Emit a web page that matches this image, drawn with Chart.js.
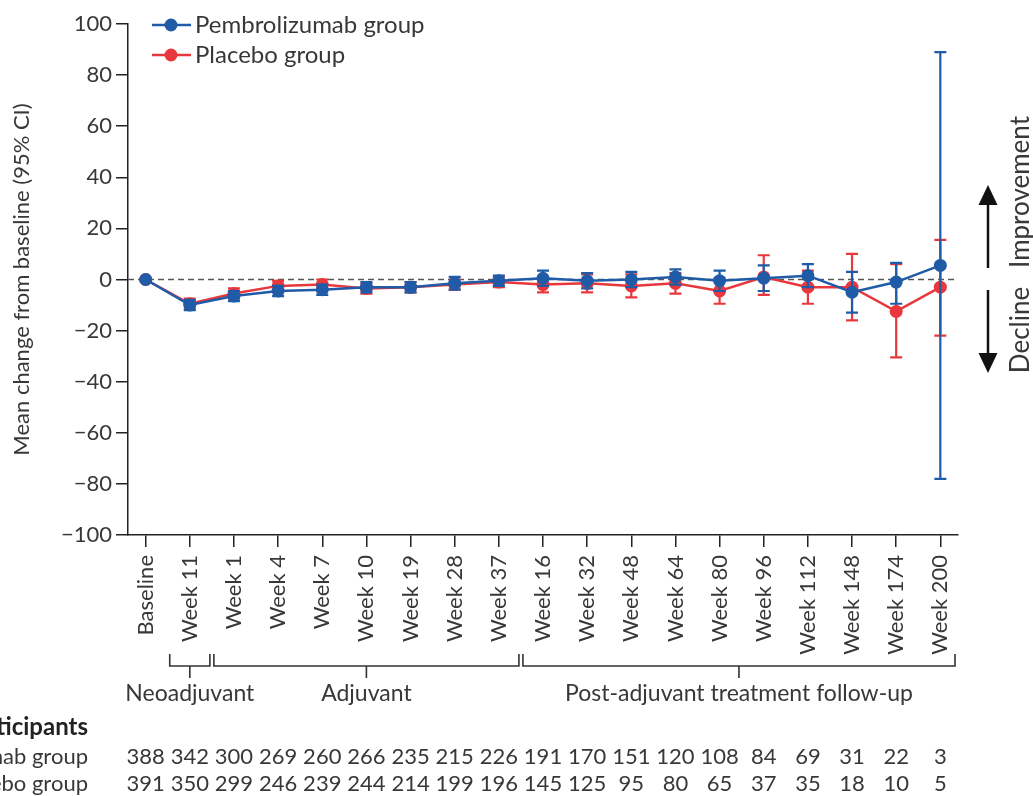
<!DOCTYPE html>
<html><head><meta charset="utf-8">
<script src="https://cdn.jsdelivr.net/npm/chart.js@4"></script>
<style>html,body{margin:0;padding:0;background:#fff;} #wrap{width:1033px;height:796px;position:relative;}</style>
</head><body><div id="wrap"><canvas id="c" width="1033" height="796"></canvas></div>
<script>
const categories = ['Baseline','Week 11','Week 1','Week 4','Week 7','Week 10','Week 19','Week 28','Week 37','Week 16','Week 32','Week 48','Week 64','Week 80','Week 96','Week 112','Week 148','Week 174','Week 200'];
const pembroMean  = [0, -10, -6.5, -4.5, -4, -3, -3, -1.5, -0.5, 0.5, -0.5, 0, 1, -0.5, 0.5, 1.5, -5, -1, 5.5];
const pembroLower = [0, -12, -8.5, -6.5, -6, -5, -5, -4, -2.5, -2.5, -3.5, -3, -2, -4.5, -4.5, -3, -13, -9.5, -78];
const pembroUpper = [0, -8, -4.5, -2.5, -2, -1, -1, 1, 1.5, 3.5, 2.5, 3, 4, 3.5, 5.5, 6, 3, 6.5, 89];
const placeboMean  = [0, -9.5, -5.5, -2.5, -2, -3.5, -3, -2, -1, -2, -1.5, -2.5, -1.5, -4.5, 1, -3, -3, -12.5, -3];
const placeboLower = [0, -11.5, -7.5, -4.5, -4, -5.5, -5, -4, -3, -5, -5, -7, -5.5, -9.5, -6, -9.5, -16, -30.5, -22];
const placeboUpper = [0, -7.5, -3.5, -0.5, 0, -1.5, -1, 0, 1, 1, 2, 2, 2.5, 0.5, 9.5, 3.5, 10, 6, 15.5];
const pembroN  = [388,342,300,269,260,266,235,215,226,191,170,151,120,108,84,69,31,22,3];
const placeboN = [391,350,299,246,239,244,214,199,196,145,125,95,80,65,37,35,18,10,5];
const yTicks = [-100,-80,-60,-40,-20,0,20,40,60,80,100];
const phaseLabels = ['Neoadjuvant','Adjuvant','Post-adjuvant treatment follow-up'];
const phaseStart = [1, 2, 9];
const phaseEnd   = [1, 8, 18];
const seriesNames = ['Pembrolizumab group','Placebo group'];

const BLUE = '#1f5ba6', RED = '#e8383d', TXT = '#383838', AX = '#222';
const FONT = 'Lato';
const errorData = [[pembroLower, pembroUpper],[placeboLower, placeboUpper]];
const seriesColors = [BLUE, RED];

const errorBars = {
  id: 'errorBars',
  beforeDatasetsDraw(chart) {
    const {ctx, chartArea, scales:{y}} = chart;
    const y0 = y.getPixelForValue(0);
    ctx.save();
    ctx.strokeStyle = '#555'; ctx.lineWidth = 1.5; ctx.setLineDash([6,4]);
    ctx.beginPath(); ctx.moveTo(chartArea.left, y0); ctx.lineTo(chartArea.right, y0); ctx.stroke();
    ctx.restore();
  },
  beforeDatasetDraw(chart, args) {
    const {ctx, scales:{x, y}} = chart;
    const [lo, hi] = errorData[args.index];
    ctx.save();
    ctx.strokeStyle = seriesColors[args.index]; ctx.lineWidth = 2.2;
    lo.forEach((l, i) => {
      const px = x.getPixelForValue(i);
      const a = y.getPixelForValue(l), b = y.getPixelForValue(hi[i]);
      if (Math.abs(a - b) < 1) return;
      ctx.beginPath();
      ctx.moveTo(px, a); ctx.lineTo(px, b);
      ctx.moveTo(px - 6, a); ctx.lineTo(px + 6, a);
      ctx.moveTo(px - 6, b); ctx.lineTo(px + 6, b);
      ctx.stroke();
    });
    ctx.restore();
  }
};

const annotations = {
  id: 'annotations',
  afterDraw(chart) {
    const {ctx, chartArea, scales:{x}} = chart;
    ctx.save();
    // legend
    seriesNames.forEach((name, k) => {
      const ly = 25 + k * 30;
      ctx.strokeStyle = seriesColors[k]; ctx.fillStyle = seriesColors[k]; ctx.lineWidth = 2.5;
      ctx.beginPath(); ctx.moveTo(152, ly); ctx.lineTo(191, ly); ctx.stroke();
      ctx.beginPath(); ctx.arc(171, ly, 6.5, 0, Math.PI*2); ctx.fill();
      ctx.fillStyle = TXT; ctx.font = `24px ${FONT}`; ctx.textAlign = 'left'; ctx.textBaseline = 'middle';
      ctx.fillText(name, 195, ly);
    });
    // right arrows
    ctx.strokeStyle = '#111'; ctx.fillStyle = '#111'; ctx.lineWidth = 2.5;
    const ax = 988;
    ctx.beginPath(); ctx.moveTo(ax, 200); ctx.lineTo(ax, 268); ctx.stroke();
    ctx.beginPath(); ctx.moveTo(ax, 185); ctx.lineTo(ax - 9.5, 205); ctx.lineTo(ax + 9.5, 205); ctx.closePath(); ctx.fill();
    ctx.beginPath(); ctx.moveTo(ax, 290); ctx.lineTo(ax, 358); ctx.stroke();
    ctx.beginPath(); ctx.moveTo(ax, 373); ctx.lineTo(ax - 9.5, 353); ctx.lineTo(ax + 9.5, 353); ctx.closePath(); ctx.fill();
    ctx.fillStyle = TXT; ctx.font = `26px ${FONT}`; ctx.textAlign = 'center'; ctx.textBaseline = 'middle';
    ctx.save(); ctx.translate(1021, 192); ctx.rotate(-Math.PI/2); ctx.fillText('Improvement', 0, 0); ctx.restore();
    ctx.save(); ctx.translate(1021, 330); ctx.rotate(-Math.PI/2); ctx.fillText('Decline', 0, 0); ctx.restore();
    // brackets
    ctx.strokeStyle = '#333'; ctx.lineWidth = 1.6;
    phaseLabels.forEach((lab, k) => {
      const x0 = x.getPixelForValue(phaseStart[k] - 0.5) + 2;
      const x1 = Math.min(x.getPixelForValue(phaseEnd[k] + 0.5) - 2, chartArea.right - 3);
      const xc = (x0 + x1) / 2;
      ctx.beginPath();
      ctx.moveTo(x0, 654); ctx.lineTo(x0, 666); ctx.lineTo(x1, 666); ctx.lineTo(x1, 654);
      ctx.moveTo(xc, 666); ctx.lineTo(xc, 678);
      ctx.stroke();
      ctx.fillStyle = TXT; ctx.font = `23px ${FONT}`; ctx.textAlign = 'center'; ctx.textBaseline = 'middle';
      ctx.fillText(lab, xc, 694);
    });
    // participants table
    ctx.fillStyle = '#222'; ctx.font = `bold 24px ${FONT}`; ctx.textAlign = 'right'; ctx.textBaseline = 'middle';
    ctx.fillText('Number of participants', 88, 727);
    ctx.fillStyle = TXT; ctx.font = `22px ${FONT}`;
    ctx.fillText(seriesNames[0], 88, 757);
    ctx.fillText(seriesNames[1], 88, 784);
    ctx.textAlign = 'center';
    pembroN.forEach((n, i) => ctx.fillText(String(n), x.getPixelForValue(i), 757));
    placeboN.forEach((n, i) => ctx.fillText(String(n), x.getPixelForValue(i), 784));
    ctx.restore();
  }
};

const mkData = arr => arr.map((v, i) => ({x: i, y: v}));

new Chart(document.getElementById('c').getContext('2d'), {
  type: 'line',
  data: {
    datasets: [
      {label: seriesNames[0], data: mkData(pembroMean), borderColor: BLUE, backgroundColor: BLUE, borderWidth: 2.5, pointRadius: 6.5, pointHoverRadius: 6.5, pointBorderWidth: 0, tension: 0},
      {label: seriesNames[1], data: mkData(placeboMean), borderColor: RED, backgroundColor: RED, borderWidth: 2.5, pointRadius: 6.5, pointHoverRadius: 6.5, pointBorderWidth: 0, tension: 0}
    ]
  },
  options: {
    responsive: false, animation: false, devicePixelRatio: 1,
    layout: {padding: {top: 24, left: 0, right: 75, bottom: 0}},
    plugins: {legend: {display: false}, tooltip: {enabled: false}},
    scales: {
      x: {
        type: 'linear', min: -0.4, max: 18.4,
        afterBuildTicks: s => { s.ticks = categories.map((c, i) => ({value: i})); },
        afterFit: s => { s.height = 261; },
        ticks: {autoSkip: false, minRotation: 90, maxRotation: 90, padding: 8, color: TXT, font: {family: FONT, size: 22}, callback: v => categories[v]},
        grid: {drawOnChartArea: false, drawTicks: true, tickLength: 12, color: AX, lineWidth: 1.5},
        border: {display: true, color: AX, width: 1.5}
      },
      y: {
        min: -100, max: 100,
        afterBuildTicks: s => { s.ticks = yTicks.map(v => ({value: v})); },
        afterFit: s => { s.width = 128; },
        ticks: {padding: 4, color: TXT, font: {family: FONT, size: 22}, callback: v => String(v).replace('-', '\u2212')},
        grid: {drawOnChartArea: false, drawTicks: true, tickLength: 12, color: AX, lineWidth: 1.5},
        border: {display: true, color: AX, width: 1.5},
        title: {display: true, text: 'Mean change from baseline (95% CI)', color: TXT, font: {family: FONT, size: 22}, padding: {top: 9, bottom: 0}}
      }
    }
  },
  plugins: [errorBars, annotations]
});
</script></body></html>
